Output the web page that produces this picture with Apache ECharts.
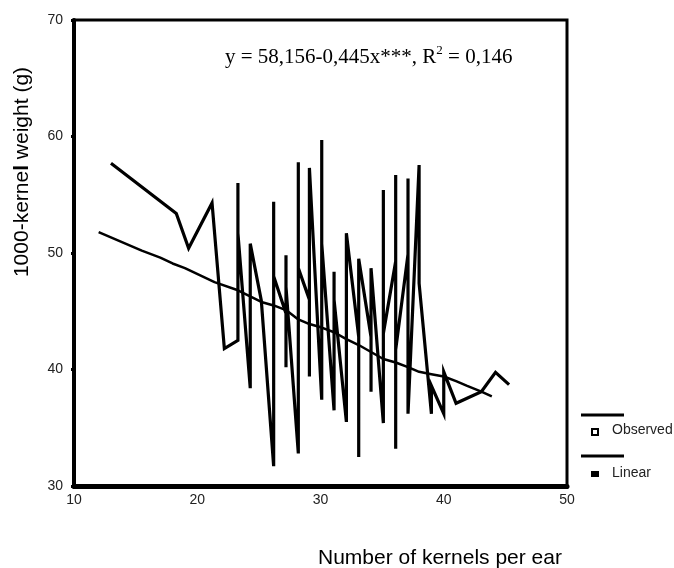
<!DOCTYPE html>
<html><head><meta charset="utf-8">
<script src="https://cdn.jsdelivr.net/npm/echarts@6/dist/echarts.min.js"></script>
<style>html,body{margin:0;padding:0;background:#fff}#c{width:674px;height:568px}</style>
</head><body><div id="c"></div>
<script>
const xTicks = [10, 20, 30, 40, 50];
const yTicks = [30, 40, 50, 60, 70];

const observedX = [13.0, 18.3, 19.3, 21.2, 22.2, 23.3, 23.3, 23.3, 24.3, 24.3, 25.2, 26.2, 26.2, 26.2,
  27.2, 27.2, 27.2, 27.2, 28.2, 28.2, 28.2, 29.1, 29.1, 29.1, 30.1, 30.1, 30.1, 31.1, 31.1, 31.1,
  32.1, 32.1, 33.1, 33.1, 33.1, 34.1, 34.1, 34.1, 35.1, 35.1, 35.1, 36.1, 36.1, 36.1, 36.1,
  37.1, 37.1, 37.1, 38.0, 38.0, 39.0, 39.0, 40.0, 40.0, 41.0, 43.05, 44.2, 45.3];
const observedY = [57.7, 53.4, 50.4, 54.3, 41.8, 42.5, 56.0, 51.7, 38.4, 50.8, 45.9, 31.7, 54.4, 48.0,
  44.8, 40.2, 49.8, 47.1, 32.8, 57.8, 48.7, 46.0, 39.4, 57.3, 37.4, 59.7, 50.8, 36.5, 48.4, 46.0,
  35.5, 51.7, 42.8, 32.5, 49.5, 42.8, 38.1, 48.7, 35.4, 55.4, 43.1, 49.3, 33.2, 56.7, 41.7,
  49.9, 56.4, 36.2, 57.55, 47.4, 36.2, 38.6, 36.2, 39.8, 37.1, 38.1, 39.75, 38.7];

const linearX = [12.0, 15.5, 17.0, 18.0, 19.0, 21.4, 23.3, 25.2, 26.2, 27.2, 28.2, 29.1, 30.1, 31.1,
  32.1, 33.1, 34.1, 35.1, 36.1, 37.1, 38.0, 39.0, 40.0, 41.0, 41.9, 43.05, 43.9];
const linearY = [51.8, 50.2, 49.6, 49.1, 48.7, 47.5, 46.8, 45.8, 45.5, 45.1, 44.3, 43.9, 43.6, 43.2,
  42.6, 42.1, 41.5, 40.9, 40.6, 40.2, 39.8, 39.6, 39.4, 39.0, 38.6, 38.1, 37.7];

const legendNames = ['Observed', 'Linear'];
const equationText = 'y = 58,156-0,445x***, R{sup|2} = 0,146';
const xTitle = 'Number of kernels per ear';
const yTitle = '1000-kerne{b|l} weight (g)';

const sans = '"Liberation Sans", Arial, sans-serif';
const serif = '"Liberation Serif", "Times New Roman", serif';

const chart = echarts.init(document.getElementById('c'), null, {renderer: 'canvas'});
chart.setOption({
  animation: false,
  backgroundColor: '#fff',
  grid: {left: 74, right: 107, top: 20, bottom: 82, show: true, borderColor: '#000', borderWidth: 3, backgroundColor: 'transparent'},
  xAxis: {
    type: 'value', min: xTicks[0], max: xTicks[xTicks.length - 1], interval: 10,
    axisLine: {show: true, lineStyle: {color: '#000', width: 5}},
    axisTick: {show: true, length: 3, lineStyle: {color: '#000', width: 2}},
    splitLine: {show: false},
    axisLabel: {margin: 7, color: '#222', fontSize: 14, fontFamily: sans}
  },
  yAxis: {
    type: 'value', min: yTicks[0], max: yTicks[yTicks.length - 1], interval: 10,
    axisLine: {show: true, lineStyle: {color: '#000', width: 4}},
    axisTick: {show: true, length: 3, lineStyle: {color: '#000', width: 3}},
    splitLine: {show: false},
    axisLabel: {margin: 11, color: '#222', fontSize: 14, fontFamily: sans, verticalAlign: 'middle', padding: [0, 0, 8, 0]}
  },
  series: [
    {
      name: legendNames[0], type: 'line', showSymbol: false, symbol: 'none',
      data: observedX.map((x, i) => [x, observedY[i]]),
      lineStyle: {color: '#000', width: 3.2, join: 'miter'}, z: 3
    },
    {
      name: legendNames[1], type: 'line', showSymbol: false, symbol: 'none',
      data: linearX.map((x, i) => [x, linearY[i]]),
      lineStyle: {color: '#000', width: 2.5}, z: 2
    }
  ],
  graphic: [
    {type: 'text', left: 225, top: 44, style: {text: equationText, font: '21px ' + serif, fill: '#000', lineHeight: 26,
      rich: {sup: {fontSize: 13, fontFamily: serif, verticalAlign: 'top', lineHeight: 13, fill: '#000'}}}},
    {type: 'text', x: 440, y: 558, style: {text: xTitle, font: '21px ' + sans, fill: '#000', align: 'center', verticalAlign: 'middle'}},
    {type: 'text', x: 22, y: 172, rotation: Math.PI / 2, style: {text: yTitle, font: '21px ' + sans, fill: '#000', align: 'center', verticalAlign: 'middle',
      rich: {b: {fontWeight: 'bold', fontSize: 21, fontFamily: sans, fill: '#000'}}}},
    {type: 'line', shape: {x1: 581, y1: 415, x2: 624, y2: 415}, style: {stroke: '#000', lineWidth: 3}},
    {type: 'rect', shape: {x: 592, y: 429, width: 6, height: 6}, style: {fill: '#fff', stroke: '#000', lineWidth: 2}},
    {type: 'text', x: 612, y: 430, style: {text: legendNames[0], font: '14px ' + sans, fill: '#222', verticalAlign: 'middle'}},
    {type: 'line', shape: {x1: 581, y1: 456, x2: 624, y2: 456}, style: {stroke: '#000', lineWidth: 3}},
    {type: 'rect', shape: {x: 591, y: 471, width: 8, height: 6}, style: {fill: '#000'}},
    {type: 'text', x: 612, y: 473, style: {text: legendNames[1], font: '14px ' + sans, fill: '#222', verticalAlign: 'middle'}}
  ]
});
</script>
</body></html>
